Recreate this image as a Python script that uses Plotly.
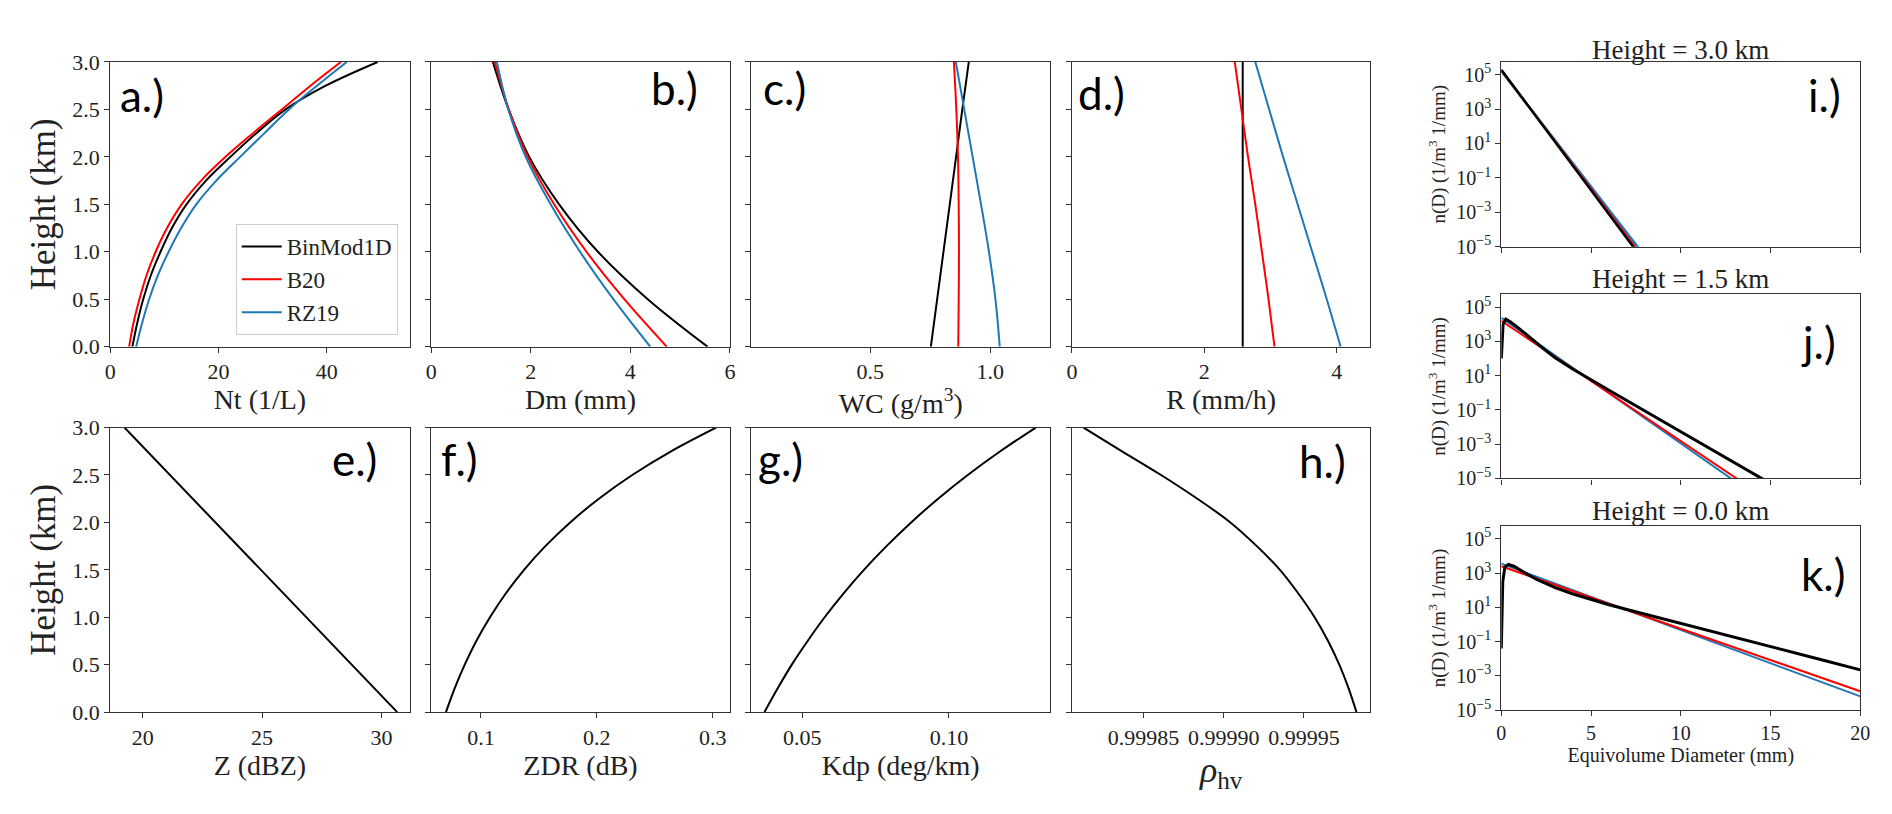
import plotly.graph_objects as go

W, H = 1892, 814
SERIF = "Liberation Serif"
SANS = "Lato"
BLACK, RED, BLUE = "#000000", "#ff0000", "#1f77b4"

# ---------------- data ----------------
height_q = [0.0, 0.25, 0.5, 0.75, 1.0, 1.25, 1.5, 1.75, 2.0, 2.25, 2.5, 2.75, 3.0]
height_h = [0.0, 0.5, 1.0, 1.5, 2.0, 2.5, 3.0]

nt_binmod = [4.1, 5.0, 6.1, 7.5, 9.3, 11.4, 14.1, 17.7, 22.2, 27.0, 32.4, 39.8, 49.4]
nt_b20 = [3.5, 4.3, 5.4, 6.7, 8.4, 10.5, 13.2, 16.8, 21.3, 26.4, 31.7, 37.0, 42.6]
nt_rz19 = [4.8, 5.9, 7.2, 8.8, 10.8, 13.1, 15.9, 19.6, 24.0, 28.5, 33.0, 38.2, 43.7]

dm_binmod = [5.55, 4.35, 3.35, 2.57, 1.97, 1.555, 1.24]
dm_b20 = [4.73, 3.88, 3.12, 2.47, 1.94, 1.56, 1.28]
dm_rz19 = [4.40, 3.66, 2.99, 2.40, 1.90, 1.55, 1.32]

wc_binmod = [0.753, 0.780, 0.806, 0.832, 0.858, 0.884, 0.911]
wc_b20 = [0.867, 0.869, 0.870, 0.869, 0.866, 0.859, 0.849]
wc_rz19 = [1.040, 1.022, 0.995, 0.962, 0.927, 0.892, 0.857]

r_binmod = [2.58, 2.58, 2.58, 2.58, 2.58, 2.58, 2.58]
r_b20 = [3.06, 2.97, 2.87, 2.77, 2.66, 2.56, 2.46]
r_rz19 = [4.06, 3.85, 3.63, 3.41, 3.19, 2.98, 2.77]

z_dbz = [30.66, 28.75, 26.85, 24.95, 23.05, 21.15, 19.24]
zdr_db = [0.0698, 0.0773, 0.0860, 0.0960, 0.1078, 0.1214, 0.1372,
          0.1556, 0.1770, 0.2018, 0.2306, 0.2641, 0.3030]
kdp = [0.0371, 0.0416, 0.0464, 0.0518, 0.0576, 0.0640, 0.0710,
       0.0787, 0.0871, 0.0963, 0.1064, 0.1175, 0.1296]
rhohv = [0.9999827, 0.9999778, 0.9999720, 0.9999650, 0.9999566, 0.9999465, 0.9999350,
         0.9999206, 0.9999041, 0.9998835, 0.9998609, 0.9998366, 0.9998126]

# size distributions, log10 n(D)
d_i = [0, 1, 2, 3, 4, 5, 6, 7, 8]
i_binmod_log = [5.28, 3.88, 2.48, 1.08, -0.32, -1.72, -3.11, -4.51, -5.91]
i_b20_log = [5.25, 3.87, 2.50, 1.12, -0.25, -1.63, -3.01, -4.38, -5.76]
i_rz19_log = [5.20, 3.86, 2.52, 1.17, -0.17, -1.51, -2.85, -4.19, -5.54]

d_j = [0, 2, 4, 6, 8, 10, 12, 14, 16]
j_b20_log = [4.2, 2.80, 1.39, -0.01, -1.42, -2.82, -4.22, -5.63, -7.03]
j_rz19_log = [4.38, 2.91, 1.45, -0.02, -1.48, -2.95, -4.42, -5.88, -7.35]
d_j_bin = [0, 0.1, 0.25, 0.5, 1.0, 1.5, 2.0, 2.5, 3.0, 4.0, 6.0, 8.0, 10.0, 12.0, 14.0, 16.0]
j_binmod_log = [2.0, 4.0, 4.3, 4.15, 3.75, 3.3, 2.85, 2.45, 2.05, 1.38, 0.15, -1.07, -2.28, -3.5, -4.7, -5.9]

d_k = [0, 5, 10, 15, 20]
k_b20_log = [3.4, 1.575, -0.25, -2.075, -3.9]
k_rz19_log = [3.55, 1.6125, -0.325, -2.2625, -4.2]
d_k_bin = [0, 0.08, 0.2, 0.4, 0.7, 1.0, 1.5, 2.0, 3.0, 4.0, 5.0, 6.0, 7.0, 8.0, 10.0, 12.0, 14.0, 16.0, 18.0, 20.0]
k_binmod_log = [-1.4, 2.5, 3.35, 3.5, 3.4, 3.2, 2.9, 2.62, 2.15, 1.78, 1.45, 1.15, 0.87, 0.6, 0.1, -0.45, -1.0, -1.55, -2.1, -2.65]

log_tickvals = [1e-5, 1e-3, 1e-1, 1e1, 1e3, 1e5]
log_ticktext = ["10<sup>−5</sup>", "10<sup>−3</sup>", "10<sup>−1</sup>", "10<sup>1</sup>", "10<sup>3</sup>", "10<sup>5</sup>"]
series_names = ["BinMod1D", "B20", "RZ19"]

# ---------------- layout helpers ----------------
def xd(a, b):
    return [a / W, b / W]

def yd(top, bot):
    return [1 - bot / H, 1 - top / H]

COLS = [(97, 399), (420.7, 722), (743.6, 1045), (1067, 1368)]
ROW_TOP = (43.3, 337)
ROW_BOT = (420.5, 714)
RIGHT_X = (1500, 1862)
RIGHT_ROWS = [(43, 234), (283, 473), (522, 712)]

fig = go.Figure()

def tr(x, y, color, idx, name=None, legend=False, width=2, shape="linear", logy=False):
    yy = [10 ** v for v in y] if logy else y
    fig.add_trace(go.Scatter(
        x=x, y=yy, mode="lines", name=name, showlegend=legend,
        line=dict(color=color, width=width, shape=shape, smoothing=1.0),
        xaxis="x" if idx == 1 else f"x{idx}", yaxis="y" if idx == 1 else f"y{idx}",
        hoverinfo="skip"))

# a
tr(nt_binmod, height_q, BLACK, 1, series_names[0], True, shape="spline")
tr(nt_b20, height_q, RED, 1, series_names[1], True, shape="spline")
tr(nt_rz19, height_q, BLUE, 1, series_names[2], True, shape="spline")
# b
tr(dm_binmod, height_h, BLACK, 2, shape="spline")
tr(dm_b20, height_h, RED, 2, shape="spline")
tr(dm_rz19, height_h, BLUE, 2, shape="spline")
# c
tr(wc_binmod, height_h, BLACK, 3)
tr(wc_b20, height_h, RED, 3, shape="spline")
tr(wc_rz19, height_h, BLUE, 3, shape="spline")
# d
tr(r_binmod, height_h, BLACK, 4)
tr(r_b20, height_h, RED, 4, shape="spline")
tr(r_rz19, height_h, BLUE, 4, shape="spline")
# e-h
tr(z_dbz, height_h, BLACK, 5)
tr(zdr_db, height_q, BLACK, 6, shape="spline")
tr(kdp, height_q, BLACK, 7, shape="spline")
tr(rhohv, height_q, BLACK, 8, shape="spline")
# i
tr(d_i, i_rz19_log, BLUE, 9, width=2.5, logy=True)
tr(d_i, i_b20_log, RED, 9, width=2, logy=True)
tr(d_i, i_binmod_log, BLACK, 9, width=2.5, logy=True)
# j
tr(d_j, j_rz19_log, BLUE, 10, width=2, logy=True)
tr(d_j, j_b20_log, RED, 10, width=2, logy=True)
tr(d_j_bin, j_binmod_log, BLACK, 10, width=3, logy=True)
# k
tr(d_k, k_rz19_log, BLUE, 11, width=2, logy=True)
tr(d_k, k_b20_log, RED, 11, width=2, logy=True)
tr(d_k_bin, k_binmod_log, BLACK, 11, width=3, logy=True)

AX = dict(showline=True, linecolor="#333", linewidth=1.3, mirror=True,
          ticks="outside", ticklen=5, tickwidth=1.2, tickcolor="#333",
          showgrid=False, zeroline=False,
          tickfont=dict(family=SERIF, size=22, color="#222"))

def title(text, size=28, standoff=6):
    return dict(text=text, font=dict(family=SERIF, size=size, color="#222"), standoff=standoff)

lay = {}
xspecs = [
    (1, 0, ROW_TOP, [0, 55.3], 20, 0, "d", "Nt (1/L)"),
    (2, 1, ROW_TOP, [0, 6.0], 2, 0, "d", "Dm (mm)"),
    (3, 2, ROW_TOP, [0.005, 1.25], 0.5, 0, ".1f", "WC (g/m<sup>3</sup>)"),
    (4, 3, ROW_TOP, [0, 4.51], 2, 0, "d", "R (mm/h)"),
    (5, 0, ROW_BOT, [18.64, 31.18], 5, 0, "d", "Z (dBZ)"),
    (6, 1, ROW_BOT, [0.057, 0.3149], 0.1, 0, ".1f", "ZDR (dB)"),
    (7, 2, ROW_BOT, [0.0326, 0.1345], 0.05, 0, ".2f", "Kdp (deg/km)"),
    (8, 3, ROW_BOT, [0.9998054, 0.9999914], 0.00005, 0.99985, ".5f", "<i>ρ</i><sub>hv</sub>"),
]
for idx, col, row, rng, dt, t0, fmt, ttl in xspecs:
    xn = "xaxis" if idx == 1 else f"xaxis{idx}"
    yn = "yaxis" if idx == 1 else f"yaxis{idx}"
    ya = "y" if idx == 1 else f"y{idx}"
    xa = "x" if idx == 1 else f"x{idx}"
    tsize = 36 if idx == 8 else 28
    lay[xn] = dict(AX, domain=xd(*COLS[col]), range=rng, dtick=dt, tick0=t0,
                   tickformat=fmt, anchor=ya, title=title(ttl, tsize, 6))
    ydict = dict(AX, domain=yd(*row), range=[0, 3], dtick=0.5, tick0=0,
                 tickformat=".1f", anchor=xa, showticklabels=(col == 0))
    if col == 0:
        ydict["title"] = title("Height (km)", 35, 5)
    lay[yn] = ydict

for n, (top, bot) in enumerate(RIGHT_ROWS):
    idx = 9 + n
    lay[f"xaxis{idx}"] = dict(AX, domain=xd(*RIGHT_X), range=[0, 20], dtick=5, tick0=0,
                              anchor=f"y{idx}", showticklabels=(idx == 11))
    if idx == 11:
        lay[f"xaxis{idx}"]["title"] = title("Equivolume Diameter (mm)", 20, 4)
        lay[f"xaxis{idx}"]["tickfont"] = dict(family=SERIF, size=20, color="#222")
    lay[f"yaxis{idx}"] = dict(AX, domain=yd(top, bot), type="log", range=[-5, 5.75],
                              tickvals=log_tickvals, ticktext=log_ticktext,
                              tickfont=dict(family=SERIF, size=20, color="#222"),
                              anchor=f"x{idx}",
                              title=title("n(D) (1/m<sup>3</sup> 1/mm)", 19, 5))

annotations = []
def lbl(text, x, y, anchor):
    annotations.append(dict(text=text, x=x / W, y=1 - y / H, xref="paper", yref="paper",
                            xanchor=anchor, yanchor="middle", showarrow=False,
                            font=dict(family=SANS, size=44, color="#000")))

lbl("a.)", 105, 77, "left")
lbl("b.)", 692, 70, "right")
lbl("c.)", 753, 70, "left")
lbl("d.)", 1071, 75, "left")
lbl("e.)", 368, 453, "right")
lbl("f.)", 429, 453, "left")
lbl("g.)", 748, 453, "left")
lbl("h.)", 1345, 455, "right")
lbl("i.)", 1845, 77, "right")
lbl("j.)", 1840, 332, "right")
lbl("k.)", 1849, 572, "right")

for txt, yc in [("Height = 3.0 km", 31), ("Height = 1.5 km", 267), ("Height = 0.0 km", 507)]:
    annotations.append(dict(text=txt, x=1681 / W, y=1 - yc / H, xref="paper", yref="paper",
                            xanchor="center", yanchor="middle", showarrow=False,
                            font=dict(family=SERIF, size=27, color="#222")))

fig.update_layout(
    width=W, height=H, margin=dict(l=0, r=0, t=0, b=0),
    paper_bgcolor="white", plot_bgcolor="white",
    font=dict(family=SERIF, color="#222"),
    annotations=annotations,
    legend=dict(x=387 / W, y=1 - 325 / H, xanchor="right", yanchor="bottom",
                bgcolor="rgba(255,255,255,0.9)", bordercolor="#cccccc", borderwidth=1,
                font=dict(family=SERIF, size=23, color="#222"),
                itemwidth=40, tracegroupgap=0),
    **lay,
)

fig.write_html("out.html")
